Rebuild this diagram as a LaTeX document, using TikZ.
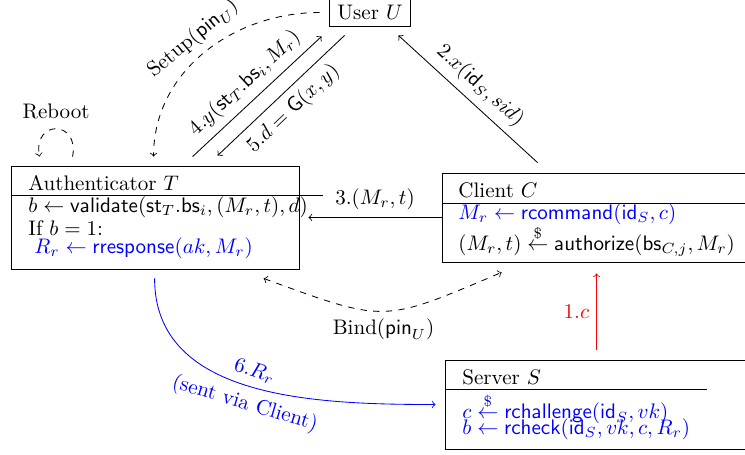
\documentclass[tikz,border=0pt]{standalone}
\usetikzlibrary{fit,calc}
\begin{document}
\begin{tikzpicture}[x=0.475pt,y=-0.475pt,
  box/.style={draw, inner sep=0pt},
  txt/.style={anchor=west, inner sep=0pt},
  conn/.style={->},
  dconn/.style={->, dashed},
  bl/.style={blue},
  >=to]
\useasboundingbox (0,0) rectangle (745,454);
\clip (0,0) rectangle (745,454);
% boxes
\node[box, fit={(329,-1) (410,26)}] (U) {};
\node[box, fit={(11,166) (299,269)}] (T) {};
\node[box, fit={(442,173) (770,262)}] (C) {};
\node[box, fit={(445,360) (770,449)}] (S) {};
% User
\node[inner sep=0pt] (Ut) at (370,13) {User $U$};
% Authenticator
\node[txt] (T0) at (28,183) {Authenticator $T$};
\draw (T.west |- 0,195) -- (323,195);
\node[txt] (T1) at (28,207) {$b \leftarrow \mathsf{validate}(\mathsf{st}_T.\mathsf{bs}_i, (M_r,t), d)$};
\node[txt] (T2) at (28,228) {If $b=1$:};
\node[txt, bl] (T3) at (34,248) {$R_r \leftarrow \mathsf{rresponse}(ak, M_r)$};
% Client
\node[txt] (C0) at (458,190) {Client $C$};
\draw (C.west |- 0,203) -- (770,203);
\node[txt, bl] (C1) at (458,214) {$M_r \leftarrow \mathsf{rcommand}(\mathsf{id}_S, c)$};
\node[txt] (C2) at (458,241) {$(M_r,t) \stackrel{\$}{\leftarrow} \mathsf{authorize}(\mathsf{bs}_{C,j}, M_r)$};
% Server
\node[txt] (S0) at (462,377) {Server $S$};
\draw (S.west |- 0,389) -- (707,389);
\node[txt, bl] (S1) at (462,409) {$c \stackrel{\$}{\leftarrow} \mathsf{rchallenge}(\mathsf{id}_S, vk)$};
\node[txt, bl] (S2) at (462,429) {$b \leftarrow \mathsf{rcheck}(\mathsf{id}_S, vk, c, R_r)$};
% 1
\draw[conn, red] ([shift={(152,-10)}]S.north west) -- node[left, text=red] {$1.c$} ([shift={(155,11)}]C.south west);
% 2
\draw[conn] ([shift={(96,-10)}]C.north west) -- node[sloped, above] {$2.x(\mathsf{id}_S, sid)$} ([shift={(-12,9)}]U.south east);
% 3
\draw[conn] (C.west) -- node[above, pos=0.5] {$3.(M_r,t)$} ([shift={(9,0)}]T.east |- C.west);
% 4
\draw[conn] ([shift={(182,-9)}]T.north west) -- node[sloped, above] {$4.y(\mathsf{st}_T.\mathsf{bs}_i, M_r)$} ([shift={(-7,10)}]U.south west);
% 5
\draw[conn] ([shift={(16,9)}]U.south west) -- node[sloped, below] {$5.d=\mathsf{G}(x,y)$} ([shift={(207,-10)}]T.north west);
% Setup
\draw[dconn] ([shift={(-9,0)}]U.west) to[out=180, in=90] node[sloped, above] {Setup($\mathsf{pin}_U$)} ([shift={(143,-9)}]T.north west);
% Reboot
\draw[dconn] ([shift={(62,-9)}]T.north west) .. controls ([shift={(69,-46)}]T.north west) and ([shift={(22,-46)}]T.north west) .. node[above=1pt] (rb) {Reboot} ([shift={(29,-9)}]T.north west);
% Bind
\draw[<->, dashed] ([shift={(253,9)}]T.south west) to[out=-20, in=-157, looseness=1.4] node[below] {Bind($\mathsf{pin}_U$)} ([shift={(60,10)}]C.south west);
% 6
\draw[conn, blue] ([shift={(144,9)}]T.south west) to[out=-90, in=180] node[sloped, above, text=blue] {$6.R_r$} node[sloped, below, text=blue] {(sent via Client)} ([shift={(-9,0)}]S.west);
\end{tikzpicture}
\end{document}
